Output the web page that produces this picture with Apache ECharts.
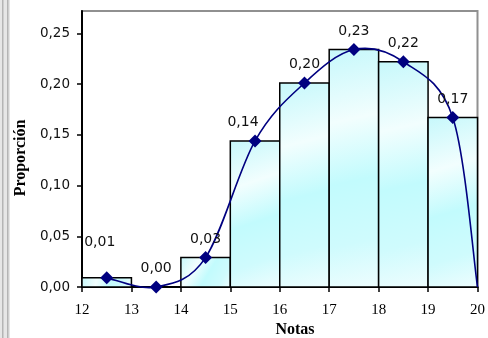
<!DOCTYPE html>
<html>
<head>
<meta charset="utf-8">
<script src="https://cdn.jsdelivr.net/npm/echarts@6/dist/echarts.min.js"></script>
<style>
  html, body { margin: 0; padding: 0; background: #fff; }
  #chart { width: 488px; height: 338px; }
</style>
</head>
<body>
<div id="chart"></div>
<script>
// Class limits of the grade intervals (Notas)
const limites = [12, 13, 14, 15, 16, 17, 18, 19, 20];
// Class marks (midpoints) where the polygon points sit
const marcas = [12.5, 13.5, 14.5, 15.5, 16.5, 17.5, 18.5, 19.5];
// Relative frequency of each interval
const proporcion = [0.009, 0.0, 0.029, 0.144, 0.201, 0.234, 0.222, 0.167];
// Y axis tick labels
const ticksY = [0, 0.05, 0.10, 0.15, 0.20, 0.25];

const fmt = v => v.toFixed(2).replace('.', ',');

// Histogram rectangles: [from, to, proportion]
const barras = proporcion.map((p, i) => [limites[i], limites[i + 1], p]);

// Polygon vertices, closed at the upper limit of the last class
const vertices = marcas.map((x, i) => [x, proporcion[i]]);
vertices.push([limites[limites.length - 1], 0]);

// Points with value labels
const puntos = marcas.map((x, i) => {
  const item = { value: [x, proporcion[i]] };
  if (i === 0) item.label = { offset: [-7, -17] };
  if (i === 3) item.label = { offset: [-12, 0] };
  return item;
});

const relleno = new echarts.graphic.LinearGradient(0, 0, 1, 1, [
  { offset: 0, color: '#c6f8fb' },
  { offset: 0.3, color: '#f2fefe' },
  { offset: 0.55, color: '#c2fbfd' },
  { offset: 0.8, color: '#cffbfd' },
  { offset: 1, color: '#eefdfe' }
]);

const chart = echarts.init(document.getElementById('chart'), null, { renderer: 'canvas' });

chart.setOption({
  animation: false,
  backgroundColor: '#ffffff',
  grid: {
    left: 82, right: 4, top: 11, bottom: 51,
    show: true, borderColor: '#909090', borderWidth: 2, backgroundColor: '#ffffff'
  },
  xAxis: {
    type: 'value', min: 12, max: 20, interval: 1,
    axisLine: { show: true, lineStyle: { color: '#000', width: 2 } },
    axisTick: { show: true, length: 5, lineStyle: { color: '#000', width: 1.5 } },
    axisLabel: { fontFamily: 'Liberation Serif', fontSize: 15, color: '#000', margin: 16 },
    splitLine: { show: false }
  },
  yAxis: {
    type: 'value', min: 0, max: 0.272,
    axisLine: { show: true, lineStyle: { color: '#000', width: 2 } },
    axisTick: { show: true, length: 5, customValues: ticksY, lineStyle: { color: '#000', width: 1.5 } },
    axisLabel: {
      customValues: ticksY, formatter: v => fmt(v),
      fontFamily: 'DejaVu Sans', fontSize: 13.5, color: '#111', margin: 12
    },
    splitLine: { show: false }
  },
  graphic: [
    { type: 'rect', left: 0, top: 0, shape: { width: 10, height: 338 }, style: { fill: '#e6e6e6' }, silent: true },
    { type: 'rect', left: 2, top: 0, shape: { width: 1.5, height: 338 }, style: { fill: '#b4b4b4' }, silent: true },
    { type: 'rect', left: 7, top: 0, shape: { width: 1.5, height: 338 }, style: { fill: '#b4b4b4' }, silent: true },
    {
      type: 'text', x: 21, y: 158, rotation: Math.PI / 2,
      style: { text: 'Proporción', font: 'bold 16px "Liberation Serif"', fill: '#000', align: 'center', verticalAlign: 'middle' }
    },
    {
      type: 'text', x: 295, y: 330,
      style: { text: 'Notas', font: 'bold 16px "Liberation Serif"', fill: '#000', align: 'center', verticalAlign: 'middle' }
    }
  ],
  series: [
    {
      // histogram bars spanning each class interval
      type: 'custom',
      data: barras,
      encode: { x: [0, 1], y: 2 },
      z: 2,
      renderItem: (params, api) => {
        const a = api.coord([api.value(0), api.value(2)]);
        const b = api.coord([api.value(1), 0]);
        return {
          type: 'rect',
          shape: { x: a[0], y: a[1], width: b[0] - a[0], height: b[1] - a[1] },
          style: { fill: relleno, stroke: '#000', lineWidth: 1.5 }
        };
      }
    },
    {
      // smoothed frequency polygon: one cubic segment per pair of vertices
      type: 'custom',
      data: vertices,
      encode: { x: 0, y: 1 },
      z: 3,
      silent: true,
      renderItem: (params, api) => {
        const i = params.dataIndex;
        const n = vertices.length;
        if (i >= n - 1) return null;
        const p = k => api.coord(vertices[Math.max(0, Math.min(n - 1, k))]);
        const p0 = p(i - 1), p1 = p(i), p2 = p(i + 1), p3 = p(i + 2);
        const t = 1 / 6;
        return {
          type: 'bezierCurve',
          shape: {
            x1: p1[0], y1: p1[1],
            cpx1: p1[0] + (p2[0] - p0[0]) * t, cpy1: p1[1] + (p2[1] - p0[1]) * t,
            cpx2: p2[0] - (p3[0] - p1[0]) * t, cpy2: p2[1] - (p3[1] - p1[1]) * t,
            x2: p2[0], y2: p2[1]
          },
          style: { fill: null, stroke: '#000080', lineWidth: 1.6 }
        };
      }
    },
    {
      type: 'scatter',
      data: puntos,
      z: 4,
      symbol: 'diamond',
      symbolSize: 13,
      itemStyle: { color: '#000080', opacity: 1 },
      label: {
        show: true, position: 'top', distance: 5,
        formatter: p => fmt(p.value[1]),
        fontFamily: 'DejaVu Sans', fontSize: 14, color: '#111'
      }
    }
  ]
});
</script>
</body>
</html>
